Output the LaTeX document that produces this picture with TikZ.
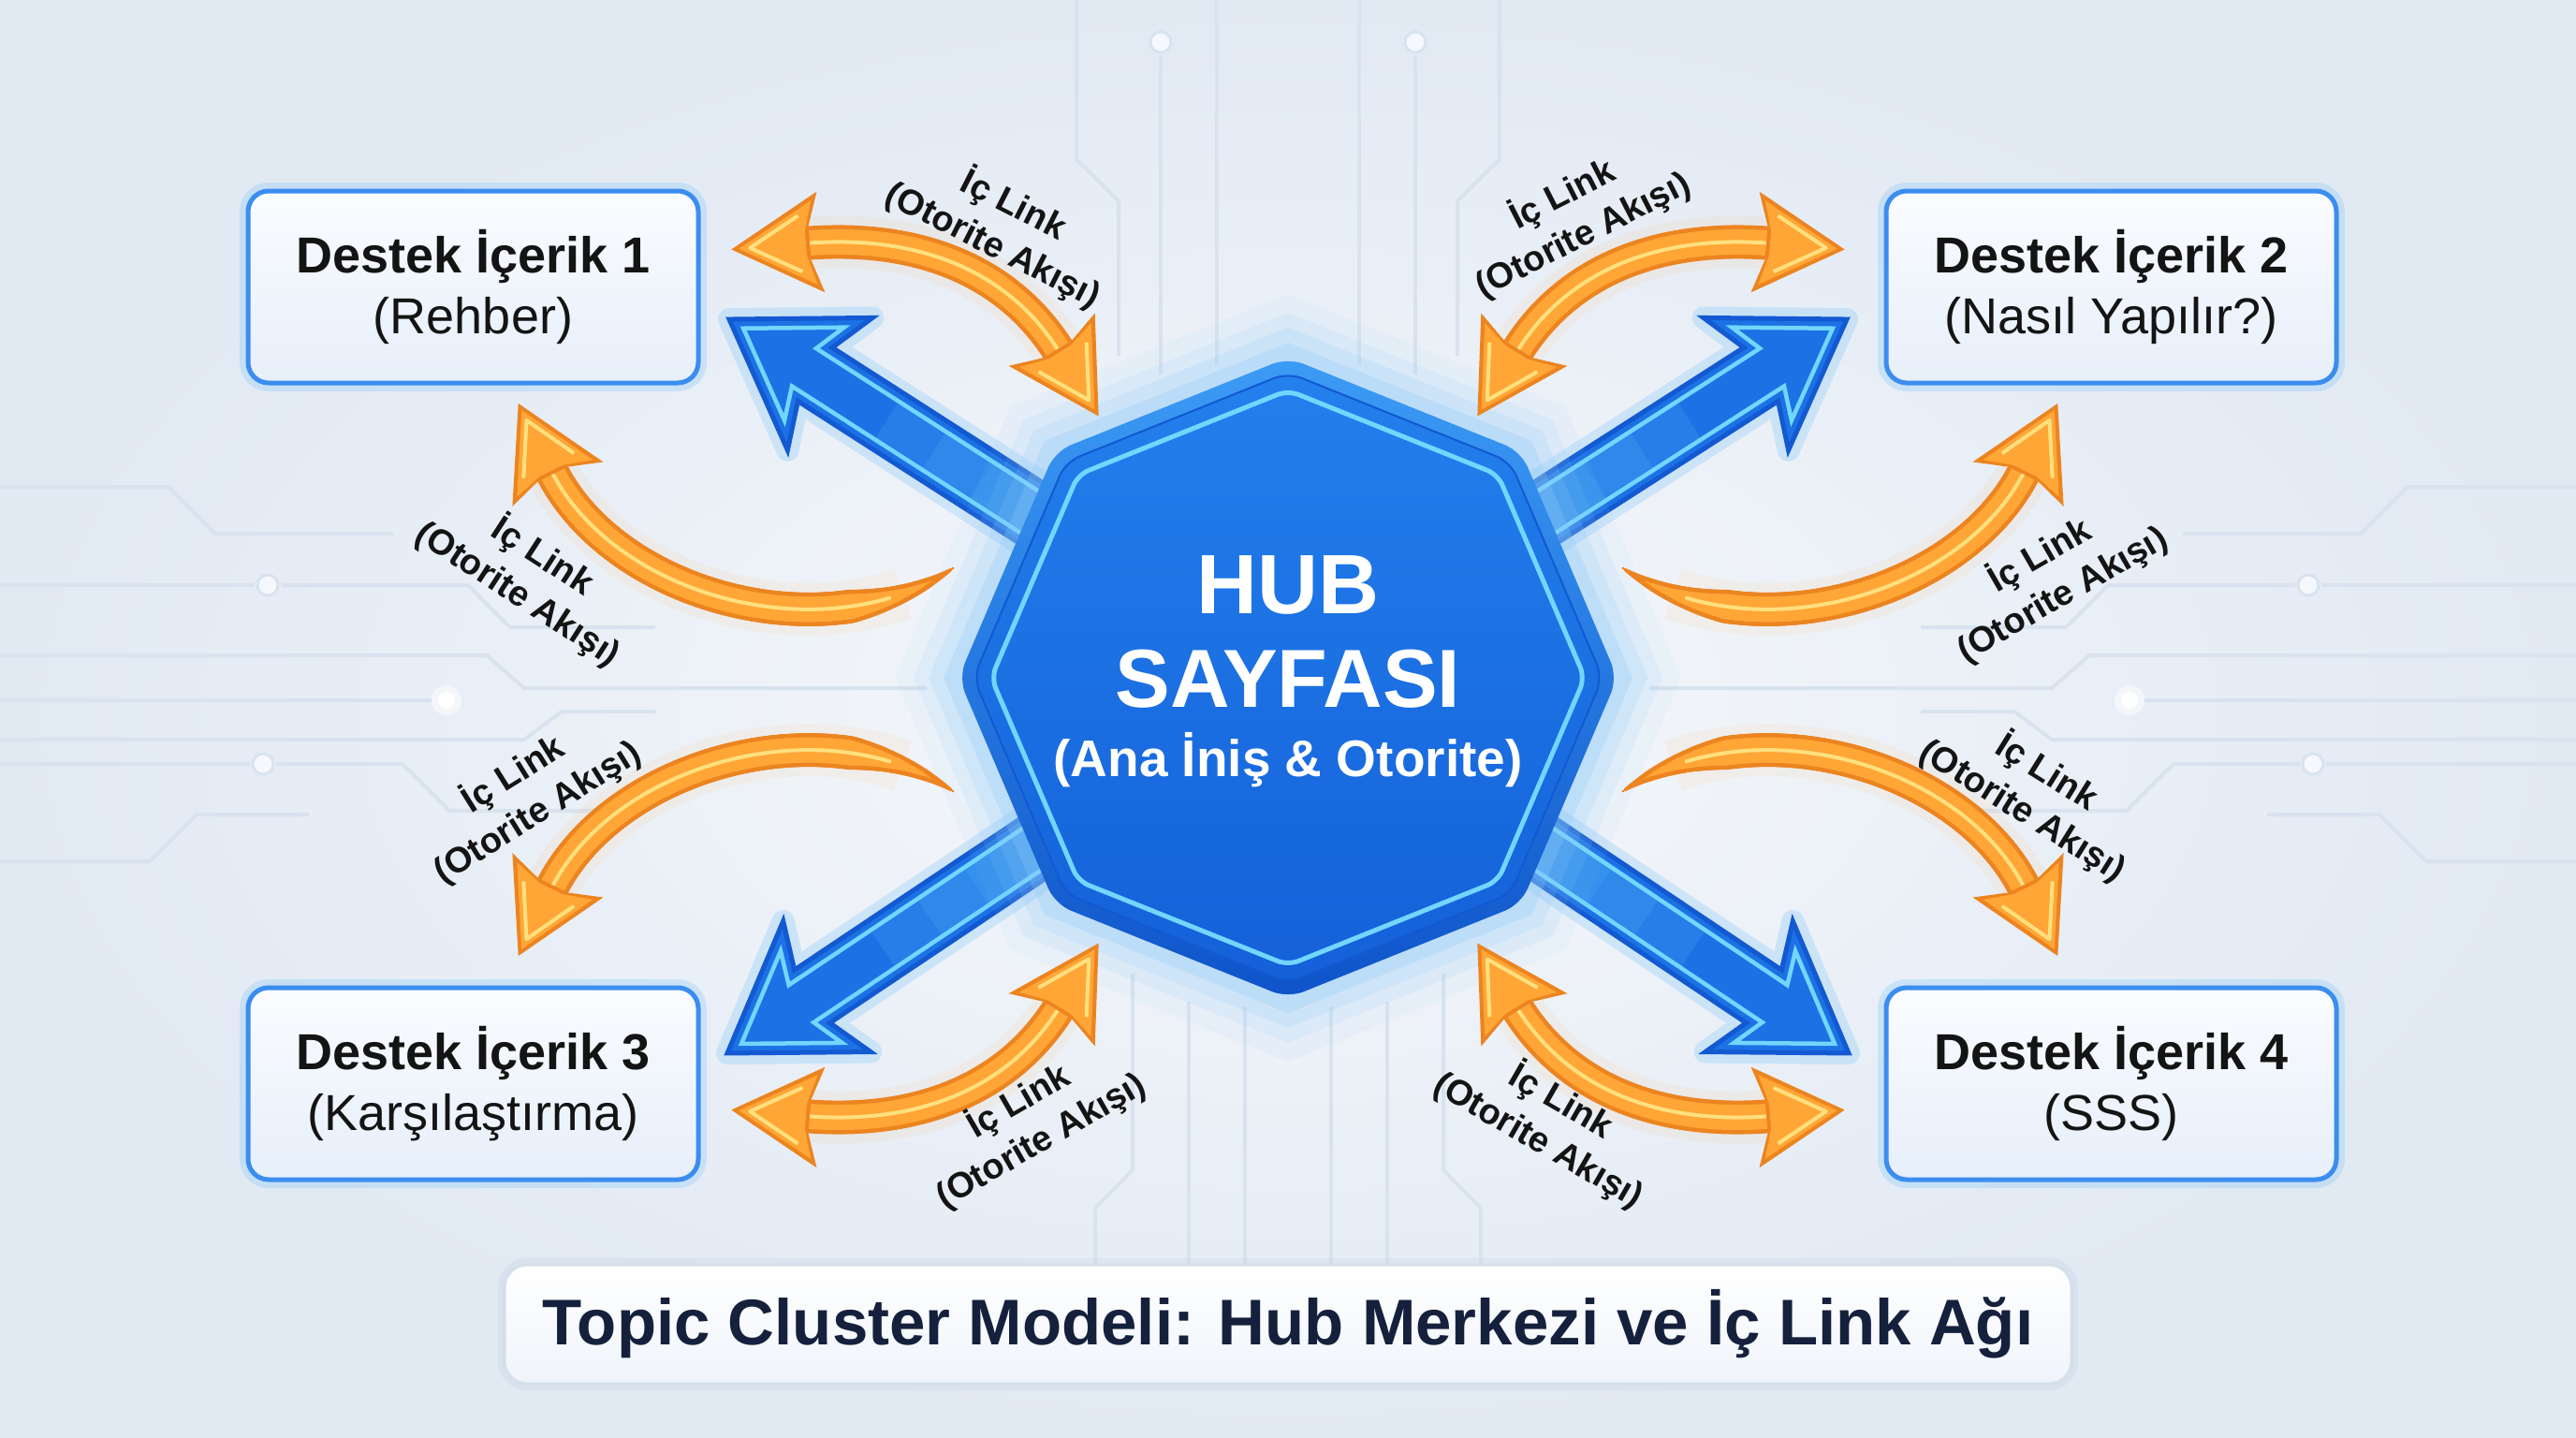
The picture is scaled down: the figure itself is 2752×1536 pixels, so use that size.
\documentclass[tikz,border=0pt]{standalone}
\usepackage{fontspec}
\setmainfont{Liberation Sans}
\usetikzlibrary{arrows.meta,calc,decorations.markings}
\definecolor{bgin}{HTML}{F7F9FC}
\definecolor{bgout}{HTML}{E1E9F3}
\definecolor{tracec}{HTML}{D9E3EF}
\definecolor{tracefill}{HTML}{F5F8FC}
\definecolor{odark}{HTML}{EC8420}
\definecolor{omid}{HTML}{FFA636}
\definecolor{olight}{HTML}{FFE07E}
\definecolor{oglowc}{HTML}{FFB968}
\definecolor{bdark}{HTML}{1259D2}
\definecolor{bmid}{HTML}{1C72E4}
\definecolor{blight}{HTML}{4CB0F8}
\definecolor{bcyan}{HTML}{72D6FF}
\definecolor{bglowc}{HTML}{8FCBF8}
\definecolor{boxborder}{HTML}{3B8DEF}
\definecolor{boxtop}{HTML}{FAFCFF}
\definecolor{boxbot}{HTML}{E7EFFA}
\definecolor{navy}{HTML}{15213C}
\definecolor{ink}{HTML}{141414}
\definecolor{rimtop}{HTML}{3C9BF5}
\definecolor{rimbot}{HTML}{0F54CA}
\definecolor{facetop}{HTML}{2380EC}
\definecolor{facebot}{HTML}{1460D8}
\definecolor{titleborder}{HTML}{D5DFEB}
\definecolor{titlebot}{HTML}{F0F4FA}
\definecolor{shadowc}{HTML}{C5D3E5}

\tikzset{
  trace/.style={draw=tracec, line width=4pt, line join=round},
  tracedot/.style={draw=tracec, fill=tracefill, line width=3pt},
  oglow/.style={draw=oglowc, line width=56pt, opacity=.10},
  oshaftdark/.style={draw=odark, line width=36pt},
  oshaftmid/.style={draw=omid, line width=27pt},
  oshaftlight/.style={draw=olight, line width=4pt},
  bglow/.style={draw=bglowc, line width=24pt, opacity=.35, line join=round},
  bbody/.style={fill=bmid, draw=bdark, line width=5pt, line join=miter},
  bedge/.style={draw=bcyan, line width=4.5pt, line join=miter},
  box/.style={draw=boxborder, line width=5pt, rounded corners=22pt,
    top color=boxtop, bottom color=boxbot,
    minimum width=481pt, minimum height=205pt, align=center, text=ink,
    font=\fontsize{54}{65}\selectfont, inner sep=0pt,
    preaction={draw=bglowc, line width=18pt, opacity=.35}},
  titlebox/.style={draw=titleborder, line width=3pt, rounded corners=24pt,
    top color=white, bottom color=titlebot,
    minimum width=1674pt, minimum height=127pt, text=navy,
    font=\fontsize{69}{80}\selectfont\bfseries, inner sep=0pt,
    preaction={draw=shadowc, line width=14pt, opacity=.3}},
  lbl/.style={font=\fontsize{38}{48}\selectfont\bfseries, text=ink,
    align=center, inner sep=0pt},
  hubtxt/.style={text=white, inner sep=0pt, anchor=base}
}

% octagon layer
\newcommand{\Oct}[3]{\path[#1] (0:#2 and #3) -- (45:#2 and #3) -- (90:#2 and #3)
  -- (135:#2 and #3) -- (180:#2 and #3) -- (225:#2 and #3) -- (270:#2 and #3)
  -- (315:#2 and #3) -- cycle;}

% orange arrow heads (drawn in mark coordinates)
\newcommand{\OrHeadFwd}{%
  \fill[odark] (-18pt,-54pt) -- (78pt,0pt) -- (-18pt,54pt) -- (-6pt,18pt) -- (-6pt,-18pt) -- cycle;
  \fill[omid] (-11pt,-45pt) -- (70pt,0pt) -- (-11pt,45pt) -- (-2pt,13.5pt) -- (-2pt,-13.5pt) -- cycle;
  \draw[olight, line width=4pt, line join=round] (4pt,-30pt) -- (58pt,0pt) -- (4pt,30pt);}
\newcommand{\OrHeadBack}{%
  \fill[odark] (18pt,-54pt) -- (-78pt,0pt) -- (18pt,54pt) -- (6pt,18pt) -- (6pt,-18pt) -- cycle;
  \fill[omid] (11pt,-45pt) -- (-70pt,0pt) -- (11pt,45pt) -- (2pt,13.5pt) -- (2pt,-13.5pt) -- cycle;
  \draw[olight, line width=4pt, line join=round] (-4pt,-30pt) -- (-58pt,0pt) -- (-4pt,30pt);}

% double headed orange arrow: #1 start base, #2 c1 offset, #3 c2 offset, #4 end base
\newcommand{\OrDouble}[4]{%
  \draw[oglow] (#1) .. controls ($(#1)+(#2)$) and ($(#4)+(#3)$) .. (#4);
  \draw[oshaftdark] (#1) .. controls ($(#1)+(#2)$) and ($(#4)+(#3)$) .. (#4);
  \draw[oshaftmid] (#1) .. controls ($(#1)+(#2)$) and ($(#4)+(#3)$) .. (#4);
  \draw[oshaftlight] (#1) .. controls ($(#1)+(#2)$) and ($(#4)+(#3)$) .. (#4);
  \path[decorate, decoration={markings, mark=at position 0 with {\OrHeadBack},
     mark=at position 0.9999 with {\OrHeadFwd}}]
     (#1) .. controls ($(#1)+(#2)$) and ($(#4)+(#3)$) .. (#4);}

% single orange arrow with tapered tail: #1 tail, #4 base of head
\newcommand{\OrSingle}[4]{%
  \draw[oglow, dash pattern=on 5000pt off 60pt, dash phase=5000pt] (#1) .. controls ($(#1)+(#2)$) and ($(#4)+(#3)$) .. (#4);
  \path[decorate, decoration={markings, mark=between positions 0 and 1 step 2.5pt with
     {\pgfmathsetmacro\rr{min(18,1.5+0.14*\pgfkeysvalueof{/pgf/decoration/mark info/distance from start})}%
      \fill[odark] (0pt,0pt) circle (\rr pt);}}]
     (#1) .. controls ($(#1)+(#2)$) and ($(#4)+(#3)$) .. (#4);
  \path[decorate, decoration={markings, mark=between positions 0 and 1 step 2.5pt with
     {\pgfmathsetmacro\rr{max(0.1,min(13.5,-3+0.14*\pgfkeysvalueof{/pgf/decoration/mark info/distance from start}))}%
      \fill[omid] (0pt,0pt) circle (\rr pt);}}]
     (#1) .. controls ($(#1)+(#2)$) and ($(#4)+(#3)$) .. (#4);
  \draw[oshaftlight, line cap=round, dash pattern=on 5000pt off 75pt, dash phase=5000pt]
     (#1) .. controls ($(#1)+(#2)$) and ($(#4)+(#3)$) .. (#4);
  \path[decorate, decoration={markings, mark=at position 0.9999 with {\OrHeadFwd}}]
     (#1) .. controls ($(#1)+(#2)$) and ($(#4)+(#3)$) .. (#4);}

% blue arrow: #1 angle, #2 length, #3 tip name
\newcommand{\BlueArrow}[3]{%
  \begin{scope}[shift={(hub)}, rotate=#1]
    \pgfmathsetmacro\LA{#2-109}\pgfmathsetmacro\LB{#2-128}%
    \pgfmathsetmacro\LC{#2-18}\pgfmathsetmacro\LD{#2-95}\pgfmathsetmacro\LE{#2-108}%
    \pgfmathsetmacro\LF{#2-200}\pgfmathsetmacro\LG{#2-260}\pgfmathsetmacro\LH{#2-320}%
    \draw[bglow] (0pt,34pt) -- (\LA pt,34pt) -- (\LB pt,84pt) -- (#2pt,0pt)
      -- (\LB pt,-84pt) -- (\LA pt,-34pt) -- (0pt,-34pt) -- cycle;
    \draw[bbody] (0pt,34pt) -- (\LA pt,34pt) -- (\LB pt,84pt) -- (#2pt,0pt)
      -- (\LB pt,-84pt) -- (\LA pt,-34pt) -- (0pt,-34pt) -- cycle;
    \fill[blight, opacity=.22] (0pt,24pt) rectangle (\LF pt,-24pt);
    \fill[blight, opacity=.22] (0pt,24pt) rectangle (\LG pt,-24pt);
    \fill[blight, opacity=.22] (0pt,24pt) rectangle (\LH pt,-24pt);
    \draw[bedge] (0pt,24pt) -- (\LD pt,24pt) -- (\LE pt,59pt) -- (\LC pt,0pt)
      -- (\LE pt,-59pt) -- (\LD pt,-24pt) -- (0pt,-24pt);
    \coordinate (#3) at (#2pt,0pt);
  \end{scope}}

\newcommand{\SideTraces}{%
  \draw[trace] (0,520) -- (180,520) -- (230,570) -- (420,570);
  \draw[trace] (0,625) -- (272,625);
  \draw[trace] (300,625) -- (500,625) -- (545,670) -- (700,670);
  \draw[trace] (0,700) -- (520,700) -- (560,735) -- (990,735);
  \draw[trace] (0,748) -- (462,748);
  \draw[trace] (0,790) -- (560,790) -- (600,760) -- (700,760);
  \draw[trace] (0,816) -- (267,816);
  \draw[trace] (295,816) -- (430,816) -- (480,866) -- (640,866);
  \draw[trace] (0,920) -- (160,920) -- (210,870) -- (330,870);
  \draw[tracedot] (286,625) circle (11pt);
  \draw[tracedot] (281,816) circle (11pt);
  \fill[white, opacity=.5] (477,748) circle (16pt);
  \fill[white] (477,748) circle (9pt);
  \draw[trace] (1150,0) -- (1150,170) -- (1195,215) -- (1195,380);
  \draw[trace] (1240,60) -- (1240,400);
  \draw[trace] (1300,0) -- (1300,390);
  \draw[tracedot] (1240,45) circle (11pt);
  \draw[trace] (1210,1040) -- (1210,1250) -- (1170,1290) -- (1170,1355);
  \draw[trace] (1270,1070) -- (1270,1355);
  \draw[trace] (1330,1075) -- (1330,1355);}

\begin{document}
\begin{tikzpicture}[x=1pt,y=-1pt]
\useasboundingbox (0,0) rectangle (2752,1536);
\fill[inner color=bgin, outer color=bgout] (0,0) rectangle (2752,1536);

% background circuit traces
\SideTraces
\begin{scope}[shift={(2752,0)}, xscale=-1]
  \SideTraces
\end{scope}

\coordinate (hub) at (1376,724);

% blue arrows from the hub
\BlueArrow{147.32}{709.3}{tUL}
\BlueArrow{32.68}{709.3}{tUR}
\BlueArrow{213.8}{720.8}{tLL}
\BlueArrow{-33.8}{720.8}{tLR}

% hub octagon
\begin{scope}[shift={(hub)}]
  \Oct{fill=bglowc, opacity=.08}{420}{410}
  \Oct{fill=bglowc, opacity=.12}{400}{390}
  \Oct{fill=bglowc, opacity=.18}{384}{374}
  \Oct{fill=bglowc, opacity=.28}{368}{358}
  \Oct{top color=rimtop, bottom color=rimbot, rounded corners=18pt}{352}{342}
  \Oct{top color=facetop, bottom color=facebot, draw=bdark, line width=2pt, rounded corners=16pt}{336}{326}
  \Oct{draw=bcyan, line width=5pt, rounded corners=12pt}{317}{307}
\end{scope}
\node[hubtxt, font=\fontsize{90}{100}\selectfont\bfseries] (hubt1) at (1376,655) {HUB};
\node[hubtxt, font=\fontsize{88}{100}\selectfont\bfseries] (hubt2) at (1376,755) {SAYFASI};
\node[hubtxt, font=\fontsize{55}{64}\selectfont\bfseries] (hubt3) at (1376,829) {(Ana İniş \& Otorite)};

% orange arrow end points
\coordinate (a1s) at (859,260);   \coordinate (a1e) at (1133,378);
\coordinate (a2s) at (1893,260);  \coordinate (a2e) at (1619,378);
\coordinate (a7s) at (859,1192);  \coordinate (a7e) at (1133,1074);
\coordinate (a8s) at (1893,1192); \coordinate (a8e) at (1619,1074);
\coordinate (a3s) at (1018,607);  \coordinate (a3e) at (588,501);
\coordinate (a4s) at (1734,607);  \coordinate (a4e) at (2164,501);
\coordinate (a5s) at (1018,845);  \coordinate (a5e) at (588,951);
\coordinate (a6s) at (1734,845);  \coordinate (a6e) at (2164,951);

\OrDouble{a1s}{120,-10}{-55,-90}{a1e}
\OrDouble{a2s}{-120,-10}{55,-90}{a2e}
\OrDouble{a7s}{120,10}{-55,90}{a7e}
\OrDouble{a8s}{-120,10}{55,90}{a8e}
\OrSingle{a3s}{-138,93}{66,135}{a3e}
\OrSingle{a4s}{138,93}{-66,135}{a4e}
\OrSingle{a5s}{-138,-93}{66,-135}{a5e}
\OrSingle{a6s}{138,-93}{-66,-135}{a6e}

% labels
\node[lbl, rotate=-27] (l1) at (1072,240) {İç Link\\(Otorite Akışı)};
\node[lbl, rotate=27]  (l2) at (1680,229) {İç Link\\(Otorite Akışı)};
\node[lbl, rotate=-33] (l3) at (567,614) {İç Link\\(Otorite Akışı)};
\node[lbl, rotate=30]  (l4) at (2191,614) {İç Link\\(Otorite Akışı)};
\node[lbl, rotate=32]  (l5) at (561,847) {İç Link\\(Otorite Akışı)};
\node[lbl, rotate=-32] (l6) at (2174,845) {İç Link\\(Otorite Akışı)};
\node[lbl, rotate=30]  (l7) at (1100,1197) {İç Link\\(Otorite Akışı)};
\node[lbl, rotate=-30] (l8) at (1656,1197) {İç Link\\(Otorite Akışı)};

% support content boxes
\node[box] (b1) at (505.5,306.5) {{\bfseries Destek İçerik 1}\\(Rehber)};
\node[box] (b2) at (2255.5,306.5) {{\bfseries Destek İçerik 2}\\(Nasıl Yapılır?)};
\node[box] (b3) at (505.5,1157.5) {{\bfseries Destek İçerik 3}\\(Karşılaştırma)};
\node[box] (b4) at (2255.5,1157.5) {{\bfseries Destek İçerik 4}\\(SSS)};

% title
\node[titlebox] (title) at (1376,1414.5) {Topic Cluster Modeli: Hub Merkezi ve İç Link Ağı};
\end{tikzpicture}
\end{document}
